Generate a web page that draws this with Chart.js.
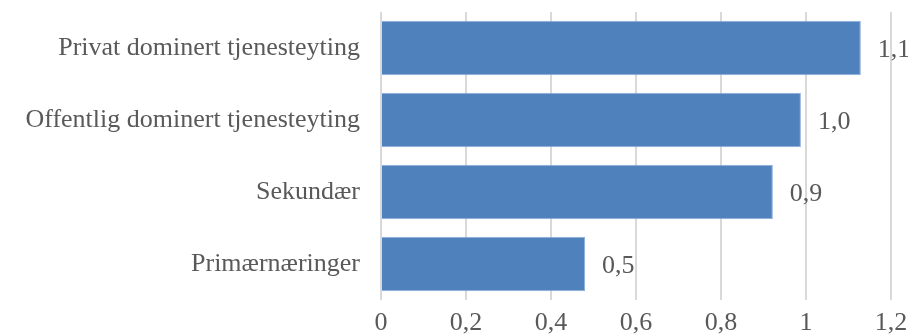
<!DOCTYPE html>
<html>
<head>
<meta charset="utf-8">
<script src="https://cdn.jsdelivr.net/npm/chart.js@4"></script>
<style>
  html, body { margin: 0; padding: 0; background: #fff; }
  #wrap { width: 908px; height: 335px; }
</style>
</head>
<body>
<div id="wrap"><canvas id="chart"></canvas></div>
<script>
// ====== DATA ======
const categories = ['Privat dominert tjenesteyting', 'Offentlig dominert tjenesteyting', 'Sekundær', 'Primærnæringer'];
const values = [1.129, 0.988, 0.922, 0.48];
const xTicks = [0, 0.2, 0.4, 0.6, 0.8, 1, 1.2];

const FONT = '"Liberation Serif", "DejaVu Serif", serif';
const TEXT = '#595959';

// comma decimal, like the rest of the labels
const fmt = (v, digits) => digits === undefined ? String(v).replace('.', ',') : v.toFixed(digits).replace('.', ',');

// ====== VALUE LABELS ======
const valueLabels = {
  id: 'valueLabels',
  afterDatasetsDraw(chart) {
    const ctx = chart.ctx;
    const meta = chart.getDatasetMeta(0);
    ctx.save();
    ctx.font = '26px ' + FONT;
    ctx.fillStyle = TEXT;
    ctx.textAlign = 'left';
    ctx.textBaseline = 'middle';
    meta.data.forEach((bar, i) => {
      ctx.fillText(fmt(values[i], 1), bar.x + 17, bar.y + 2);
    });
    ctx.restore();
  }
};

// ====== CHART ======
new Chart(document.getElementById('chart'), {
  type: 'bar',
  data: {
    labels: categories,
    datasets: [{
      data: values,
      backgroundColor: '#4f81bd',
      borderColor: '#8eb0da',
      borderWidth: 1,
      barPercentage: 0.76,
      categoryPercentage: 1
    }]
  },
  options: {
    indexAxis: 'y',
    responsive: true,
    maintainAspectRatio: false,
    animation: false,
    layout: { padding: { top: 12, right: 17, left: 0, bottom: 0 } },
    plugins: {
      legend: { display: false },
      tooltip: { enabled: false }
    },
    scales: {
      x: {
        min: 0,
        max: 1.2,
        afterBuildTicks: s => { s.ticks = xTicks.map(v => ({ value: v })); },
        // fixed height, and let the last tick label run into the right margin
        afterFit: s => { s.height = 35; s.paddingRight = 0; },
        grid: { color: '#d9d9d9', lineWidth: 2, drawTicks: false },
        border: { display: false },
        ticks: {
          padding: 8,
          color: TEXT,
          font: { family: FONT, size: 26 },
          callback: v => fmt(v)
        }
      },
      y: {
        afterFit: s => { s.width = 381; s.paddingTop = 0; },
        grid: { display: false, tickLength: 21 },
        border: { display: false },
        ticks: {
          padding: 0,
          color: TEXT,
          font: { family: FONT, size: 26, lineHeight: 0.9 }
        }
      }
    }
  },
  plugins: [valueLabels]
});
</script>
</body>
</html>
